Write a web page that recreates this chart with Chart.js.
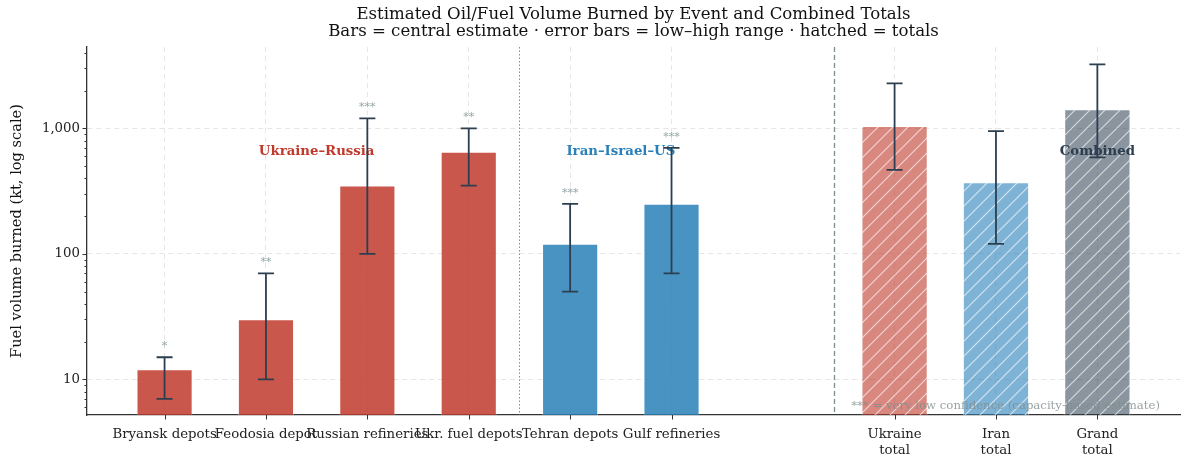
<!DOCTYPE html>
<html>
<head>
<meta charset="utf-8">
<title>Estimated Oil/Fuel Volume Burned</title>
<script src="https://cdn.jsdelivr.net/npm/chart.js@4/dist/chart.umd.min.js"></script>
<style>
  html, body { margin: 0; padding: 0; background: #ffffff; }
  canvas { display: block; }
</style>
</head>
<body>
<canvas id="chart" width="1182" height="456"></canvas>
<script>
// ---- data (kt of oil / fuel burned) ----
const eventLabels = ['Bryansk depots', 'Feodosia depot', 'Russian refineries', 'Ukr. fuel depots', 'Tehran depots', 'Gulf refineries'];
const eventRegion = ['ukraine', 'ukraine', 'ukraine', 'ukraine', 'iran', 'iran'];
const eventCentral = [12, 30, 350, 650, 120, 250];
const eventLow = [7, 10, 100, 350, 50, 70];
const eventHigh = [15, 70, 1200, 1000, 250, 700];
const eventConfidence = ['*', '**', '***', '**', '***', '***'];

const totalLabels = [['Ukraine', 'total'], ['Iran', 'total'], ['Grand', 'total']];
const totalRegion = ['ukraine', 'iran', 'combined'];
const totalCentral = [1042, 370, 1412];
const totalLow = [467, 120, 587];
const totalHigh = [2285, 950, 3235];

const groupLabels = ['Ukraine\u2013Russia', 'Iran\u2013Israel\u2013US', 'Combined'];
const yTickLabels = ['10', '100', '1,000'];

// ---- layout / style ----
const SERIF = "'DejaVu Serif', 'Liberation Serif', serif";
const TOTAL_GAP = 1.2;           // extra space before the totals block
const EVENT_WIDTH = 0.55;
const TOTAL_WIDTH = 0.65;
const REGION_DIVIDER = 3.5;      // dotted line between the two conflicts
const TOTALS_DIVIDER = 6.6;      // dashed line before the totals
const GROUP_LABEL_Y = 650;
const ERR_COLOR = '#2c3e50';

const solid = {
  ukraine: 'rgba(192, 57, 43, 0.85)',
  iran: 'rgba(41, 128, 185, 0.85)'
};
const light = {
  ukraine: 'rgba(192, 57, 43, 0.6)',
  iran: 'rgba(41, 128, 185, 0.6)',
  combined: 'rgba(44, 62, 80, 0.55)'
};
const textColor = { ukraine: '#c0392b', iran: '#2980b9', combined: '#2c3e50' };

const eventX = eventLabels.map((_, i) => i);
const totalX = totalLabels.map((_, j) => eventLabels.length + TOTAL_GAP + j);
const allX = eventX.concat(totalX);
const allLabels = eventLabels.concat(totalLabels);

const xLo = eventX[0] - EVENT_WIDTH / 2;
const xHi = totalX[totalX.length - 1] + TOTAL_WIDTH / 2;
const xPad = 0.05 * (xHi - xLo);

const canvas = document.getElementById('chart');
const mainCtx = canvas.getContext('2d');

// diagonal "/" hatch over a translucent fill
function hatch(fill) {
  const s = 15;
  const c = document.createElement('canvas');
  c.width = s; c.height = s;
  const g = c.getContext('2d');
  g.fillStyle = fill;
  g.fillRect(0, 0, s, s);
  g.strokeStyle = 'rgba(255, 255, 255, 0.65)';
  g.lineWidth = 1.1;
  g.beginPath();
  g.moveTo(-1, s + 1); g.lineTo(s + 1, -1);
  g.moveTo(-s / 2 - 1, s / 2 + 1); g.lineTo(s / 2 + 1, -s / 2 - 1);
  g.moveTo(s / 2 - 1, s * 1.5 + 1); g.lineTo(s * 1.5 + 1, s / 2 - 1);
  g.stroke();
  return mainCtx.createPattern(c, 'repeat');
}

const overlay = {
  id: 'overlay',
  beforeDatasetsDraw(chart) {
    const { ctx, chartArea: a, scales: { x } } = chart;
    ctx.save();
    ctx.lineWidth = 1;
    ctx.strokeStyle = '#8c8c8c';
    ctx.setLineDash([1.5, 2]);
    let px = Math.round(x.getPixelForValue(REGION_DIVIDER)) + 0.5;
    ctx.beginPath(); ctx.moveTo(px, a.top); ctx.lineTo(px, a.bottom); ctx.stroke();
    ctx.lineWidth = 1.3;
    ctx.strokeStyle = '#7f8c8d';
    ctx.setLineDash([5, 3]);
    px = Math.round(x.getPixelForValue(TOTALS_DIVIDER)) + 0.5;
    ctx.beginPath(); ctx.moveTo(px, a.top); ctx.lineTo(px, a.bottom); ctx.stroke();
    ctx.restore();
  },
  afterDatasetsDraw(chart) {
    const { ctx, chartArea: a, scales: { x, y } } = chart;
    ctx.save();

    // group headings
    ctx.font = 'bold 13.3px ' + SERIF;
    ctx.textAlign = 'center';
    ctx.textBaseline = 'middle';
    const headX = [
      (eventX[0] + eventX[3]) / 2,
      (eventX[4] + eventX[5]) / 2,
      totalX[2]
    ];
    const headKey = ['ukraine', 'iran', 'combined'];
    groupLabels.forEach((t, k) => {
      ctx.fillStyle = textColor[headKey[k]];
      ctx.fillText(t, x.getPixelForValue(headX[k]), y.getPixelForValue(GROUP_LABEL_Y));
    });

    // error bars
    const cap = 8;
    ctx.strokeStyle = ERR_COLOR;
    ctx.lineWidth = 1.8;
    const drawErr = (xv, lo, hi) => {
      const px = x.getPixelForValue(xv);
      const pl = y.getPixelForValue(lo);
      const ph = y.getPixelForValue(hi);
      ctx.beginPath();
      ctx.moveTo(px, pl); ctx.lineTo(px, ph);
      ctx.moveTo(px - cap, pl); ctx.lineTo(px + cap, pl);
      ctx.moveTo(px - cap, ph); ctx.lineTo(px + cap, ph);
      ctx.stroke();
    };
    eventX.forEach((xv, i) => drawErr(xv, eventLow[i], eventHigh[i]));
    totalX.forEach((xv, j) => drawErr(xv, totalLow[j], totalHigh[j]));

    // confidence stars
    ctx.font = '11px ' + SERIF;
    ctx.fillStyle = '#95a5a6';
    ctx.textBaseline = 'alphabetic';
    eventX.forEach((xv, i) => {
      ctx.fillText(eventConfidence[i], x.getPixelForValue(xv), y.getPixelForValue(eventHigh[i]) - 8);
    });

    // footnote
    ctx.font = '11.7px ' + SERIF;
    ctx.fillStyle = 'rgba(127, 140, 141, 0.8)';
    ctx.textAlign = 'right';
    ctx.fillText('*** = very low confidence (capacity-based estimate)', a.right - 20, a.bottom - 6);
    ctx.restore();
  },
  afterDraw(chart) {
    const { ctx, chartArea: a, scales: { x, y } } = chart;
    ctx.save();
    ctx.strokeStyle = '#333333';
    ctx.lineWidth = 1;
    ctx.beginPath();
    x.ticks.forEach(t => {
      const px = Math.round(x.getPixelForValue(t.value)) + 0.5;
      ctx.moveTo(px, a.bottom); ctx.lineTo(px, a.bottom + 4.5);
    });
    y.ticks.forEach(t => {
      const py = Math.round(y.getPixelForValue(t.value)) + 0.5;
      ctx.moveTo(a.left, py); ctx.lineTo(a.left - (t.major ? 4.5 : 2.5), py);
    });
    ctx.stroke();
    ctx.restore();
  }
};

new Chart(canvas, {
  type: 'bar',
  data: {
    datasets: [
      {
        label: 'Events',
        data: eventX.map((xv, i) => ({ x: xv, y: eventCentral[i] })),
        backgroundColor: eventRegion.map(r => solid[r]),
        borderColor: 'rgba(255, 255, 255, 0.5)',
        borderWidth: 0.8,
        barPercentage: EVENT_WIDTH,
        categoryPercentage: 1,
        grouped: false
      },
      {
        label: 'Totals',
        data: totalX.map((xv, j) => ({ x: xv, y: totalCentral[j] })),
        backgroundColor: totalRegion.map(r => hatch(light[r])),
        borderColor: 'rgba(255, 255, 255, 0.55)',
        borderWidth: 0.8,
        barPercentage: TOTAL_WIDTH,
        categoryPercentage: 1,
        grouped: false
      }
    ]
  },
  options: {
    responsive: false,
    animation: false,
    devicePixelRatio: 1,
    layout: { padding: { left: 0, right: 2, top: 0, bottom: 0 } },
    plugins: {
      legend: { display: false },
      tooltip: { enabled: false },
      title: {
        display: true,
        fullSize: false,
        text: ['Estimated Oil/Fuel Volume Burned by Event and Combined Totals',
               'Bars = central estimate \u00b7 error bars = low\u2013high range \u00b7 hatched = totals'],
        font: { family: SERIF, size: 16.6, weight: 'normal', lineHeight: 1.03 },
        color: '#111111',
        padding: { top: 6.5, bottom: 6.3 }
      }
    },
    scales: {
      x: {
        type: 'linear',
        min: xLo - xPad,
        max: xHi + xPad,
        offset: false,
        afterBuildTicks(scale) { scale.ticks = allX.map(v => ({ value: v })); },
        afterFit(scale) { scale.height = 41; },
        ticks: {
          callback: (v, i) => allLabels[i],
          autoSkip: false,
          maxRotation: 0,
          minRotation: 0,
          padding: 12,
          color: '#222222',
          font: { family: SERIF, size: 13.3, lineHeight: 1.165 }
        },
        grid: { color: '#e6e6e6', lineWidth: 1, drawTicks: false, offset: false },
        border: { color: '#333333', width: 1.3, dash: [5, 4] }
      },
      y: {
        type: 'logarithmic',
        min: 5.2,
        max: 4450,
        afterBuildTicks(scale) {
          const t = [];
          for (let e = 0; e <= 3; e++) {
            for (let m = 1; m <= 9; m++) {
              const v = m * Math.pow(10, e);
              if (v >= scale.min && v <= scale.max) t.push({ value: v, major: m === 1 });
            }
          }
          scale.ticks = t;
        },
        afterFit(scale) { scale.width = 87; },
        ticks: {
          autoSkip: false,
          callback: function (v, i, ticks) {
            if (!ticks[i].major) return '';
            const k = Math.round(Math.log10(v)) - 1;
            return yTickLabels[k] !== undefined ? yTickLabels[k] : '';
          },
          padding: 7,
          color: '#222222',
          font: { family: SERIF, size: 13.3 }
        },
        grid: {
          color: c => (c.tick && c.tick.major) ? '#e6e6e6' : 'rgba(0,0,0,0)',
          lineWidth: 1,
          drawTicks: false
        },
        border: { color: '#333333', width: 1.3, dash: [5, 4] },
        title: {
          display: true,
          text: 'Fuel volume burned (kt, log scale)',
          color: '#111111',
          font: { family: SERIF, size: 14.6, lineHeight: 1.2 },
          padding: { top: 8.2, bottom: 0 }
        }
      }
    }
  },
  plugins: [overlay]
});
</script>
</body>
</html>
